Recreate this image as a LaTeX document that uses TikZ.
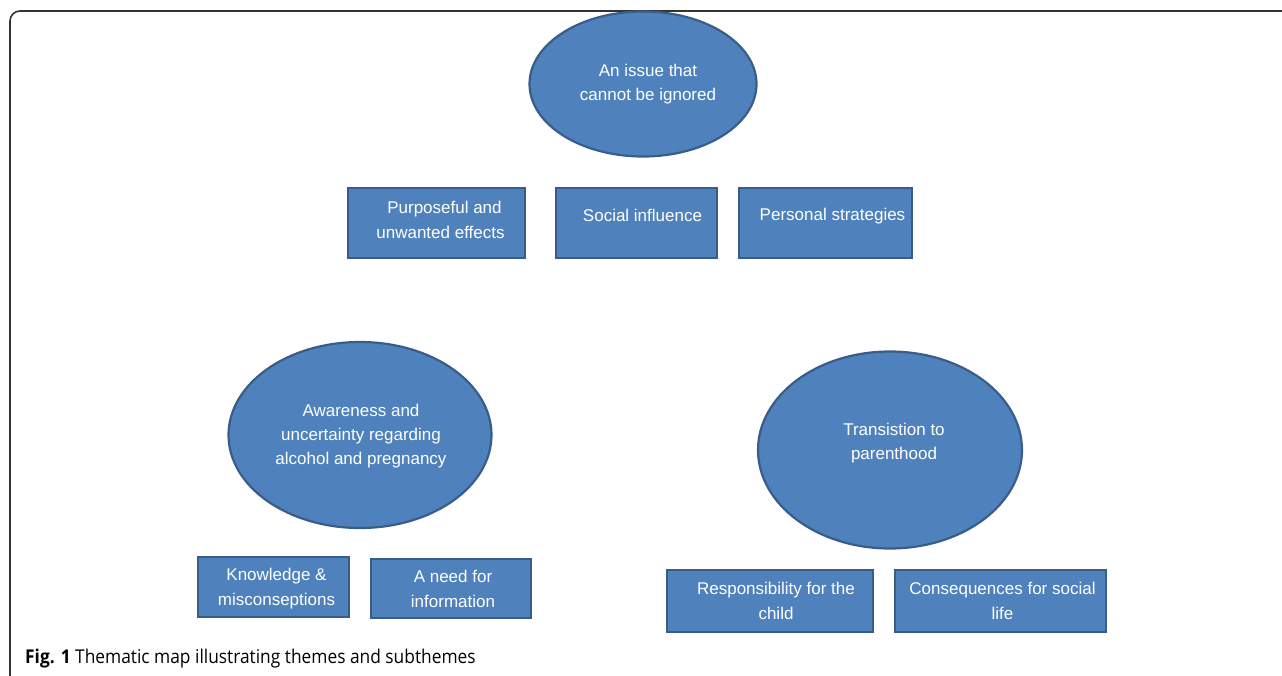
\documentclass[tikz,border=0pt]{standalone}
\usepackage{fontspec}
\setmainfont{Liberation Sans}
\newfontfamily\capfont{Open Sans}
\usetikzlibrary{shapes.geometric,calc}
\definecolor{boxfill}{HTML}{4F81BD}
\definecolor{boxline}{HTML}{385D8A}
\definecolor{framegray}{HTML}{333333}
\tikzset{
  theme/.style={ellipse, draw=boxline, fill=boxfill, line width=2.2pt, inner sep=0pt},
  subbox/.style={rectangle, draw=boxline, fill=boxfill, line width=2.4pt, inner sep=0pt},
  txt/.style={inner sep=0pt, text=white, align=center, font=\fontsize{17}{24.2}\selectfont},
}
\begin{document}
\begin{tikzpicture}[x=1pt,y=-1pt]
\useasboundingbox (0,0) rectangle (1282,675);
% frame
\draw[framegray, line width=1.6pt, rounded corners=10pt] (10,676) -- (10,11) -- (1283,11);
% themes
\node[theme, minimum width=227pt, minimum height=145pt] (t1) at (643,84) {};
\node[theme, minimum width=263pt, minimum height=186pt] (t2) at (360,435) {};
\node[theme, minimum width=264pt, minimum height=197pt] (t3) at (890,450) {};
\node[txt] (t1t) at ($(t1)+(5,0)$) {An issue that\\cannot be ignored};
\node[txt] (t2t) at ($(t2)+(1,1)$) {Awareness and\\uncertainty regarding\\alcohol and pregnancy};
\node[txt] (t3t) at ($(t3)+(4,-7)$) {Transistion to\\parenthood};
% subthemes
\node[subbox, minimum width=177pt, minimum height=70pt] (s1) at (436.5,223) {};
\node[subbox, minimum width=161pt, minimum height=70pt] (s2) at (636.5,223) {};
\node[subbox, minimum width=173pt, minimum height=70pt] (s3) at (825.5,223) {};
\node[subbox, minimum width=151pt, minimum height=60pt] (s4) at (273.5,587) {};
\node[subbox, minimum width=160pt, minimum height=59pt] (s5) at (451,588.5) {};
\node[subbox, minimum width=206pt, minimum height=62pt] (s6) at (770,601) {};
\node[subbox, minimum width=211pt, minimum height=62pt] (s7) at (1000.5,601) {};
\node[txt] (s1t) at ($(s1)+(4,-3)$) {\hspace{8pt}Purposeful and\\unwanted effects};
\node[txt] (s2t) at ($(s2)+(6,-8)$) {Social influence};
\node[txt] (s3t) at ($(s3)+(7,-7)$) {Personal strategies};
\node[txt] (s4t) at ($(s4)+(3,1.5)$) {Knowledge \&\\misconseptions};
\node[txt] (s5t) at ($(s5)+(2,0.5)$) {A need for\\information};
\node[txt] (s6t) at ($(s6)+(6,0)$) {Responsibility for the\\child};
\node[txt] (s7t) at ($(s7)+(2,0)$) {Consequences for social\\life};
% caption
\node[anchor=base west, inner sep=0pt, font=\capfont\fontsize{19}{22}\selectfont] (cap) at (25,663) {\scalebox{0.913}[1]{\textbf{Fig. 1} Thematic map illustrating themes and subthemes}};
\end{tikzpicture}
\end{document}
